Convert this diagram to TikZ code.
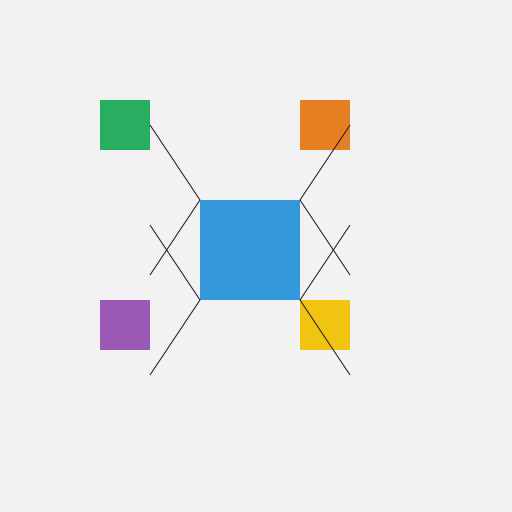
\documentclass[tikz,border=0pt]{standalone}
\definecolor{bg}{HTML}{F2F2F2}
\definecolor{hub}{HTML}{3498DB}
\definecolor{gr}{HTML}{27AE60}
\definecolor{og}{HTML}{E67E22}
\definecolor{pu}{HTML}{9B59B6}
\definecolor{ye}{HTML}{F1C40F}
\definecolor{ln}{HTML}{222222}
\usepackage{tikz}

\begin{document}
\begin{tikzpicture}[
      x=1pt, y=-1pt,
      every node/.style={inner sep=0pt, outer sep=0pt},
      sq/.style={minimum size=50pt},
      wire/.style={color=ln, line width=.9pt}]
        \fill[bg] (0,0) rectangle (512,512);
        \useasboundingbox (0,0) rectangle (512,512);

        \node[sq, fill=gr] (green)  at (125,125) {};
        \node[sq, fill=og] (orange) at (325,125) {};
        \node[sq, fill=pu] (purple) at (125,325) {};
        \node[sq, fill=ye] (yellow) at (325,325) {};

        \node[minimum size=100pt, fill=hub] (hub) at (250,250) {};

        \coordinate (l1) at (150,225);
        \coordinate (l2) at (150,275);
        \coordinate (l3) at (150,375);
        \coordinate (r1) at (350,225);
        \coordinate (r2) at (350,275);
        \coordinate (r3) at (350,375);

        % left
        \draw[wire] (green.east) -- (hub.north west);
        \draw[wire] (hub.north west) -- (l2);
        \draw[wire] (l1) -- (hub.south west);
        \draw[wire] (hub.south west) -- (l3);
        % right
        \draw[wire] (hub.north east) -- (orange.east);
        \draw[wire] (hub.north east) -- (r2);
        \draw[wire] (hub.south east) -- (r1);
        \draw[wire] (hub.south east) -- (r3);

      \end{tikzpicture}
\end{document}
